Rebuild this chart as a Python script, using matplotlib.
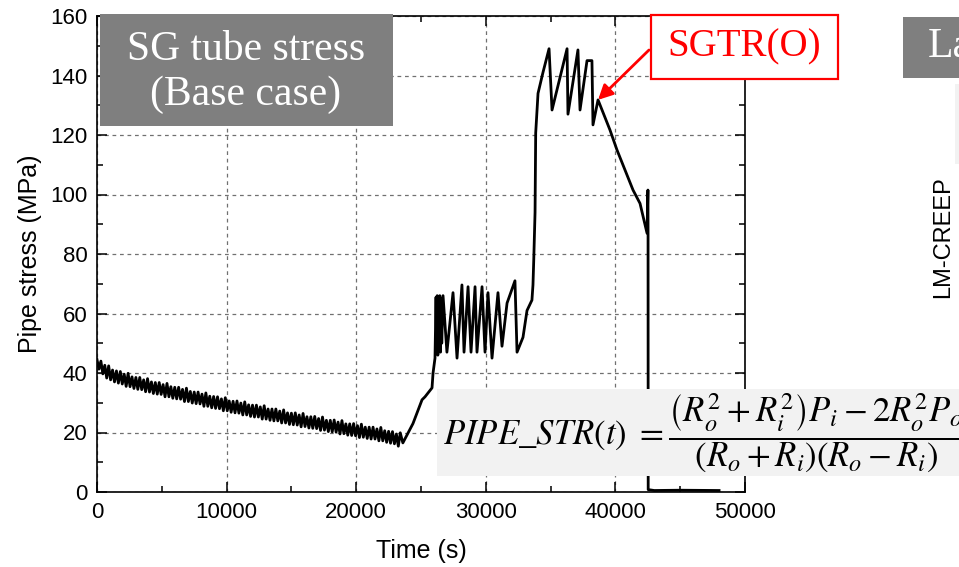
import matplotlib.pyplot as plt
from matplotlib.patches import Rectangle
from matplotlib.ticker import MultipleLocator

# 时间 (s) 与管壁应力 (MPa)
time_s = [
    0, 150, 300, 450, 600, 750, 900, 1050, 1200, 1350,
    1500, 1650, 1800, 1950, 2100, 2250, 2400, 2550, 2700, 2850,
    3000, 3150, 3300, 3450, 3600, 3750, 3900, 4050, 4200, 4350,
    4500, 4650, 4800, 4950, 5100, 5250, 5400, 5550, 5700, 5850,
    6000, 6150, 6300, 6450, 6600, 6750, 6900, 7050, 7200, 7350,
    7500, 7650, 7800, 7950, 8100, 8250, 8400, 8550, 8700, 8850,
    9000, 9150, 9300, 9450, 9600, 9750, 9900, 10050, 10200, 10350,
    10500, 10650, 10800, 10950, 11100, 11250, 11400, 11550, 11700, 11850,
    12000, 12150, 12300, 12450, 12600, 12750, 12900, 13050, 13200, 13350,
    13500, 13650, 13800, 13950, 14100, 14250, 14400, 14550, 14700, 14850,
    15000, 15150, 15300, 15450, 15600, 15750, 15900, 16050, 16200, 16350,
    16500, 16650, 16800, 16950, 17100, 17250, 17400, 17550, 17700, 17850,
    18000, 18150, 18300, 18450, 18600, 18750, 18900, 19050, 19200, 19350,
    19500, 19650, 19800, 19950, 20100, 20250, 20400, 20550, 20700, 20850,
    21000, 21150, 21300, 21450, 21600, 21750, 21900, 22050, 22200, 22350,
    22500, 22650, 22800, 22950, 23100, 23250, 23400, 23600,
    24380, 25080, 25310, 25850, 25930, 26080, 26160,
    26200, 26250, 26300, 26350, 26400, 26450, 26500, 26550, 26600, 26700,
    27000, 27470, 27780, 28160, 28320, 28630, 28860, 29170, 29320, 29710,
    29940, 30170, 30480, 30940, 31250, 31640, 32250, 32410, 32870, 33180,
    33560, 33640, 33700, 33800, 33850, 34030, 34410, 34880, 35110, 36270,
    36340, 37110, 37270, 37810, 38190, 38270, 38660, 39580, 40120, 41360,
    41900, 42440, 42510, 42520, 42530, 43000, 45000, 48000,
]
stress_mpa = [
    44.5, 41.3, 44.0, 39.7, 42.6, 38.3, 42.4, 37.7, 41.0, 37.0,
    40.7, 36.6, 40.5, 36.3, 39.6, 35.5, 39.9, 35.4, 38.7, 34.8,
    38.5, 34.5, 38.5, 34.4, 37.7, 33.7, 38.1, 33.6, 37.0, 33.1,
    36.8, 32.9, 36.8, 32.8, 36.1, 32.0, 36.5, 32.0, 35.4, 31.5,
    35.2, 31.3, 35.2, 31.2, 34.5, 30.4, 34.9, 30.4, 33.8, 29.9,
    33.6, 29.7, 33.6, 29.6, 32.9, 28.8, 33.3, 28.8, 32.2, 28.3,
    32.1, 28.1, 32.0, 28.0, 31.3, 27.3, 31.7, 27.3, 30.6, 26.8,
    30.5, 26.6, 30.6, 26.5, 29.9, 25.9, 30.3, 25.9, 29.3, 25.4,
    29.2, 25.2, 29.2, 25.2, 28.6, 24.5, 29.0, 24.5, 27.9, 24.1,
    27.9, 23.9, 27.9, 23.9, 27.2, 23.2, 27.6, 23.2, 26.6, 22.7,
    26.5, 22.6, 26.6, 22.5, 25.9, 21.9, 26.4, 22.0, 25.3, 21.5,
    25.3, 21.4, 25.4, 21.3, 24.7, 20.7, 25.2, 20.8, 24.1, 20.3,
    24.1, 20.2, 24.2, 20.1, 23.5, 19.5, 24.0, 19.6, 22.9, 19.1,
    22.9, 19.0, 23.0, 18.9, 22.3, 18.3, 22.8, 18.4, 21.8, 18.0,
    21.8, 17.8, 21.8, 17.8, 21.2, 17.2, 21.7, 17.2, 20.6, 16.7,
    20.4, 16.4, 20.3, 16.2, 19.5, 15.4, 19.9, 16.5,
    23.0, 31.0, 32.0, 35.0, 40.0, 45.0, 65.5,
    50.0, 66.0, 46.0, 64.0, 48.0, 66.0, 47.0, 65.0, 50.0, 66.0,
    47.0, 67.0, 45.0, 69.6, 47.0, 69.0, 47.0, 69.0, 47.0, 69.0,
    47.0, 67.0, 45.0, 67.0, 49.0, 63.5, 71.0, 47.0, 52.0, 61.0,
    64.5, 69.6, 78.0, 94.0, 120.7, 134.0, 141.0, 149.0, 128.4, 149.0,
    127.0, 148.6, 128.4, 145.0, 145.0, 123.4, 131.8, 121.7, 115.0, 101.5,
    97.0, 87.0, 101.5, 86.0, 0.8, 0.5, 0.6, 0.5,
]

x_ticks = [0, 10000, 20000, 30000, 40000, 50000]
y_ticks = [0, 20, 40, 60, 80, 100, 120, 140, 160]

W, H = 959, 567


def fx(px):
    return px / W


def fy(py):
    # 像素坐标（自上而下）转为图坐标
    return 1 - py / H


def box(x0, y0, x1, y1, **kw):
    return Rectangle((fx(x0), fy(y1)), fx(x1) - fx(x0), (y1 - y0) / H,
                     transform=fig.transFigure, **kw)


plt.rcParams['mathtext.fontset'] = 'stix'
sans = 'Liberation Sans'
serif = 'Liberation Serif'

fig = plt.figure(figsize=(9.59, 5.67), dpi=100)
ax = fig.add_axes([fx(97), fy(492), fx(745) - fx(97), (492 - 16) / H])

ax.plot(time_s, stress_mpa, color='black', lw=2.0, zorder=3)

ax.set_xlim(0, 50000)
ax.set_ylim(0, 160)
ax.set_xticks(x_ticks)
ax.set_yticks(y_ticks)
ax.xaxis.set_minor_locator(MultipleLocator(5000))
ax.yaxis.set_minor_locator(MultipleLocator(10))
ax.tick_params(which='both', direction='in', top=True, right=True,
               labelsize=16, width=1.1)
ax.tick_params(which='major', length=7, pad=7)
ax.tick_params(which='minor', length=4.5)
for lab in ax.get_xticklabels() + ax.get_yticklabels():
    lab.set_family(sans)
for sp in ax.spines.values():
    sp.set_linewidth(1.2)
ax.grid(True, which='major', color='#707070', ls=(0, (3, 3)), lw=0.9)

ax.set_xlabel('Time (s)', fontsize=18, family=sans, labelpad=12)
ax.set_ylabel('Pipe stress (MPa)', fontsize=18, family=sans, labelpad=6)

# 左上灰色标题框
fig.patches.append(box(100, 14, 393, 126, facecolor='#7f7f7f', zorder=5))
fig.text(fx(246), fy(72), 'SG tube stress\n(Base case)', color='white',
         fontsize=30, family=serif, ha='center', va='center',
         linespacing=1.22, zorder=6)

# SGTR(O) 标注
fig.patches.append(box(651, 15, 838, 79, facecolor='white', edgecolor='red',
                       lw=1.6, zorder=5))
fig.text(fx(744), fy(47), 'SGTR(O)', color='red', fontsize=28, family=serif,
         ha='center', va='center', zorder=6)
ax.annotate('', xy=(38660, 131.8), xytext=(fx(649), fy(50)),
            textcoords='figure fraction',
            arrowprops=dict(arrowstyle='-|>', color='red', lw=2,
                            mutation_scale=22, shrinkA=0, shrinkB=0),
            zorder=6)

# 公式框
fig.patches.append(box(437, 389, 965, 476, facecolor='#f2f2f2', zorder=5))
fig.text(fx(443), fy(433),
         r'$PIPE\_STR(t)\ =\dfrac{\left(R_o^2+R_i^2\right)P_i-2R_o^2P_o}'
         r'{(R_o+R_i)(R_o-R_i)}$',
         fontsize=25, ha='left', va='center', zorder=6)

# 右侧被截断的另一张图
fig.patches.append(box(903, 17, 965, 78, facecolor='#7f7f7f', zorder=5))
fig.text(fx(928), fy(47), 'La', color='white', fontsize=30, family=serif,
         ha='left', va='center', zorder=6)
fig.patches.append(box(955, 84, 965, 164, facecolor='#f2f2f2', zorder=5))
fig.text(fx(943), fy(237), 'LM-CREEP', rotation=90, fontsize=17, family=sans,
         ha='center', va='center', zorder=6)

fig.savefig('out.png', dpi=100)
